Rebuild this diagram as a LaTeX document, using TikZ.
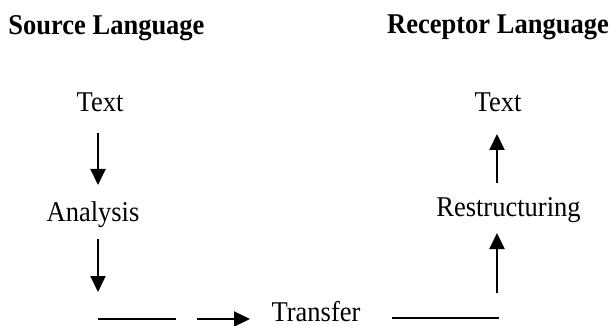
\documentclass[tikz,border=0pt]{standalone}
\usepackage{fontspec}
\setmainfont{Liberation Serif}
\usetikzlibrary{arrows.meta}
\newcommand\mytall[1]{\scalebox{1}[1.08]{#1}}
\begin{document}
\begin{tikzpicture}[x=1pt,y=-1pt,
  lbl/.style={anchor=base,inner sep=0pt,font=\fontsize{26.5}{30}\selectfont},
  ttl/.style={anchor=base,inner sep=0pt,font=\fontsize{26.5}{30}\selectfont\bfseries},
  arr/.style={line width=2pt,-{Triangle[width=15pt,length=16pt]}},
  seg/.style={line width=2pt}]
\useasboundingbox (0,0) rectangle (611,326);
\node[ttl] (src) at (106.5,35) {\mytall{Source Language}};
\node[ttl] (rec) at (498,34) {\mytall{Receptor Language}};
\node[lbl] (t1) at (100,112) {\mytall{Text}};
\node[lbl] (t2) at (498,112) {\mytall{Text}};
\node[lbl] (ana) at (93,222) {\mytall{Analysis}};
\node[lbl] (res) at (508.5,217) {\mytall{Restructuring}};
\node[lbl] (tra) at (316,321) {\mytall{Transfer}};
% coordinates
\coordinate (a1s) at (98,133);
\coordinate (a1e) at (98,185);
\coordinate (a2s) at (98,239);
\coordinate (a2e) at (98,292);
\coordinate (l1s) at (98,319);
\coordinate (l1e) at (176,319);
\coordinate (a3s) at (197,319);
\coordinate (a3e) at (250,319);
\coordinate (l2s) at (392,318);
\coordinate (l2e) at (499,318);
\coordinate (a4s) at (497,293);
\coordinate (a4e) at (497,233);
\coordinate (a5s) at (497,183);
\coordinate (a5e) at (497,134);
\draw[arr] (a1s) -- (a1e);
\draw[arr] (a2s) -- (a2e);
\draw[seg] (l1s) -- (l1e);
\draw[arr] (a3s) -- (a3e);
\draw[seg] (l2s) -- (l2e);
\draw[arr] (a4s) -- (a4e);
\draw[arr] (a5s) -- (a5e);
\end{tikzpicture}
\end{document}
